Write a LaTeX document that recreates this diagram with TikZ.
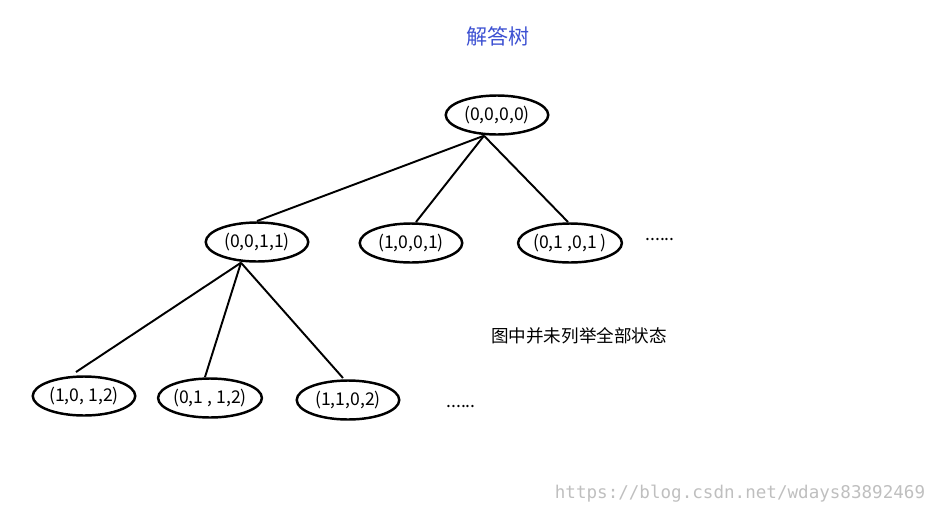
\documentclass[tikz,border=0pt]{standalone}
\usepackage{fontspec}
\setmainfont{Noto Sans CJK SC}
\newfontfamily\wmfont{DejaVu Sans Mono}
\usetikzlibrary{shapes.geometric,calc}
\definecolor{titleblue}{RGB}{60,80,210}
\tikzset{
  state/.style={ellipse,draw,line width=1.4pt,minimum width=2.05cm,minimum height=0.78cm,inner sep=0pt,font=\fontsize{10}{12}\selectfont},
  branch/.style={line width=1.1pt}
}
\begin{document}
\begin{tikzpicture}
    \useasboundingbox (0,0) rectangle (18.5,-10.3);

    % Title
    \node[text=titleblue,font=\fontsize{12}{14}\selectfont] (title) at (9.96,-0.72) {解答树};

    % Root
    \node[state] (root) at (9.94,-2.30) {(0,0,0,0)};

    % Second level
    \node[state] (s1) at (5.14,-4.84) {(0,0,1,1)};
    \node[state] (s2) at (8.22,-4.86) {(1,0,0,1)};
    \node[state] (s3) at (11.40,-4.86) {(0,1 ,0,1 )};
    \node (dots1) at (13.20,-4.80) {......};

    % Third level
    \node[state] (t1) at (1.68,-7.92) {(1,0, 1,2)};
    \node[state] (t2) at (4.20,-7.96) {(0,1 , 1,2)};
    \node[state] (t3) at (6.96,-8.00) {(1,1,0,2)};
    \node (dots2) at (9.22,-8.12) {......};

    % Note
    \node[font=\fontsize{10}{12}\selectfont] (note) at (11.58,-6.72) {图中并未列举全部状态};

    % Branches
    \coordinate (r0) at ($(root.south)+(-0.26,0)$);
    \draw[branch] (r0) -- (5.14,-4.42);
    \draw[branch] (r0) -- (8.32,-4.44);
    \draw[branch] (r0) -- (11.36,-4.44);
    \coordinate (s0) at ($(s1.south)+(-0.32,0)$);
    \draw[branch] (s0) -- (1.52,-7.44);
    \draw[branch] (s0) -- (4.10,-7.54);
    \draw[branch] (s0) -- (6.86,-7.56);

    % Watermark
    \node[text=black!25,font=\wmfont\fontsize{10}{12}\selectfont] (wm) at (14.8,-9.88) {https://blog.csdn.net/wdays83892469};
\end{tikzpicture}
\end{document}
